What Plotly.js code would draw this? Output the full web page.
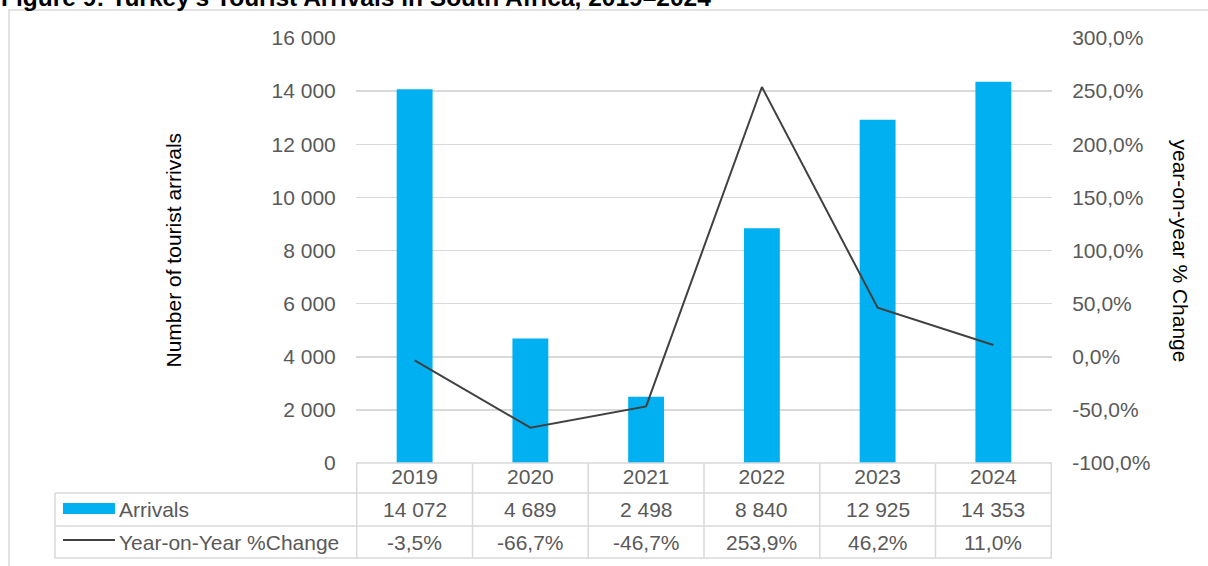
<!DOCTYPE html>
<html><head><meta charset="utf-8">
<script src="https://cdn.plot.ly/plotly-3.0.1.min.js"></script>
<style>html,body{margin:0;padding:0;background:#fff;}#chart{width:1208px;height:566px;}</style>
</head><body><div id="chart"></div>
<script>
const years = ['2019','2020','2021','2022','2023','2024'];
const arrivals = [14072, 4689, 2498, 8840, 12925, 14353];
const yoyChange = [-3.5, -66.7, -46.7, 253.9, 46.2, 11.0];
const pctTicks = [-100, -50, 0, 50, 100, 150, 200, 250, 300];
const seriesNames = ['Arrivals', 'Year-on-Year %Change'];
const titleText = "Figure 9: Turkey's Tourist Arrivals in South Africa, 2019–2024";
const leftTitle = 'Number of tourist arrivals';
const rightTitle = 'year-on-year % Change';

const W = 1208, H = 566;
const L = 356, R = 1052, T = 38, B = 463;
const pw = R - L, ph = B - T;
const px = p => (p - L) / pw;
const py = p => (B - p) / ph;

const grey = '#d9d9d9', txt = '#595959';
const FS = 21;
const fmtInt = n => String(n).replace(/\B(?=(\d{3})+(?!\d))/g, ' ');
const fmtPct = v => v.toFixed(1).replace('.', ',') + '%';

const rowY = [463, 493, 526, 558];
const tableLeft = 55;

const shapes = [];
const annotations = [];
// outer frame
shapes.push({type:'rect', xref:'paper', yref:'paper', x0:px(9), x1:px(1260), y0:py(10), y1:py(620), line:{color:grey, width:1.5}, layer:'below'});
// table horizontal lines
shapes.push({type:'line', xref:'paper', yref:'paper', x0:0, x1:1, y0:py(rowY[0]), y1:py(rowY[0]), line:{color:grey, width:1.5}});
for (let k = 1; k < rowY.length; k++) {
  shapes.push({type:'line', xref:'paper', yref:'paper', x0:px(tableLeft), x1:1, y0:py(rowY[k]), y1:py(rowY[k]), line:{color:grey, width:1.5}});
}
// table vertical lines
for (let i = 0; i <= years.length; i++) {
  shapes.push({type:'line', xref:'x', yref:'paper', x0:i-0.5, x1:i-0.5, y0:py(rowY[0]), y1:py(rowY[3]), line:{color:grey, width:1.5}});
}
shapes.push({type:'line', xref:'paper', yref:'paper', x0:px(tableLeft), x1:px(tableLeft), y0:py(rowY[1]), y1:py(rowY[3]), line:{color:grey, width:1.5}});
// legend swatches
shapes.push({type:'rect', xref:'paper', yref:'paper', x0:px(63), x1:px(115), y0:py(503), y1:py(514), fillcolor:'#00B0F0', line:{width:0}});
shapes.push({type:'line', xref:'paper', yref:'paper', x0:px(63), x1:px(115), y0:py(540), y1:py(540), line:{color:'#404040', width:2}});

const rowCenter1 = (rowY[1] + rowY[2]) / 2, rowCenter2 = (rowY[2] + rowY[3]) / 2;
annotations.push({xref:'paper', yref:'paper', x:px(117), y:py(rowCenter1), xanchor:'left', yanchor:'middle', text:seriesNames[0], showarrow:false, font:{size:FS, color:txt}});
annotations.push({xref:'paper', yref:'paper', x:px(117), y:py(rowCenter2), xanchor:'left', yanchor:'middle', text:seriesNames[1], showarrow:false, font:{size:FS, color:txt}});
years.forEach((yr, i) => {
  annotations.push({xref:'x', yref:'paper', x:i, y:py(rowCenter1), xanchor:'center', yanchor:'middle', text:fmtInt(arrivals[i]), showarrow:false, font:{size:FS, color:txt}});
  annotations.push({xref:'x', yref:'paper', x:i, y:py(rowCenter2), xanchor:'center', yanchor:'middle', text:fmtPct(yoyChange[i]), showarrow:false, font:{size:FS, color:txt}});
});
// title & axis titles
annotations.push({xref:'paper', yref:'paper', x:px(-1), y:py(-3), xanchor:'left', yanchor:'middle', text:'<b>'+titleText+'</b>', showarrow:false, font:{size:24.5, color:'#000'}});
annotations.push({xref:'paper', yref:'paper', x:px(173), y:0.5, xanchor:'center', yanchor:'middle', textangle:-90, text:leftTitle, showarrow:false, font:{size:FS, color:'#000'}});
annotations.push({xref:'paper', yref:'paper', x:px(1180), y:0.5, xanchor:'center', yanchor:'middle', textangle:90, text:rightTitle, showarrow:false, font:{size:FS, color:'#000'}});

const data = [
  {type:'bar', x:years, y:arrivals, name:seriesNames[0], marker:{color:'#00B0F0'}, width:0.31, hoverinfo:'x+y'},
  {type:'scatter', mode:'lines', x:years, y:yoyChange, name:seriesNames[1], yaxis:'y2', line:{color:'#404040', width:2}}
];

const layout = {
  width:W, height:H,
  margin:{l:L, r:W-R, t:T, b:H-B, pad:0},
  paper_bgcolor:'#fff', plot_bgcolor:'#fff',
  showlegend:false,
  separators:', ',
  font:{family:'Liberation Sans, Arial, sans-serif', size:FS, color:txt},
  xaxis:{type:'category', showgrid:false, zeroline:false, showline:false, ticks:'', ticklabelstandoff:-1, tickfont:{size:FS, color:txt}, fixedrange:true},
  yaxis:{range:[0,16000], dtick:2000, tickformat:',d', showgrid:true, gridcolor:grey, gridwidth:1.5, zeroline:false, showline:false, ticks:'outside', ticklen:15, tickcolor:'rgba(0,0,0,0)', tickfont:{size:FS, color:txt}, fixedrange:true},
  yaxis2:{overlaying:'y', side:'right', range:[-100,300], tickmode:'array', tickvals:pctTicks, ticktext:pctTicks.map(fmtPct), showgrid:false, zeroline:false, showline:false, ticks:'outside', ticklen:15, tickcolor:'rgba(0,0,0,0)', tickfont:{size:FS, color:txt}, fixedrange:true},
  shapes:shapes,
  annotations:annotations
};
Plotly.newPlot('chart', data, layout, {staticPlot:true, displayModeBar:false});
</script></body></html>
